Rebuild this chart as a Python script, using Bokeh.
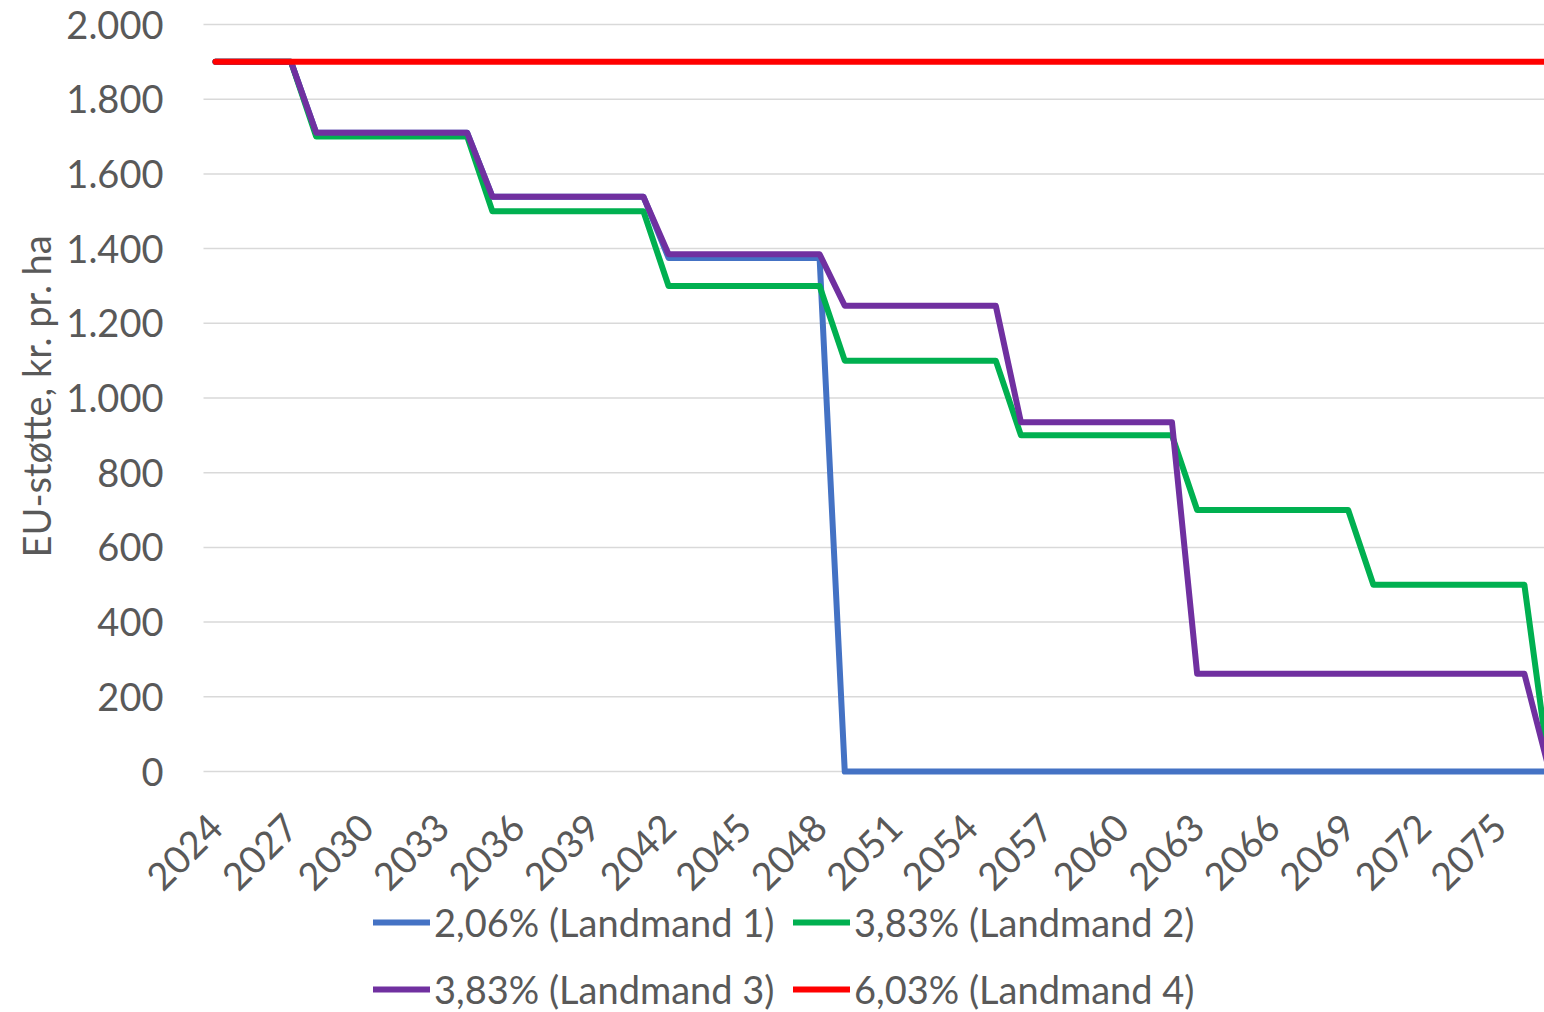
import math
from bokeh.plotting import figure
from bokeh.models import (FixedTicker, CustomJSTickFormatter, Legend, LegendItem,
                          Range1d, Title)
from bokeh.embed import file_html
from bokeh.resources import INLINE

years = list(range(2024, 2078))

landmand1 = [1900, 1900, 1900, 1900,
             1710, 1710, 1710, 1710, 1710, 1710, 1710,
             1539, 1539, 1539, 1539, 1539, 1539, 1539,
             1375, 1375, 1375, 1375, 1375, 1375, 1375,
             0, 0, 0, 0, 0, 0, 0,
             0, 0, 0, 0, 0, 0, 0,
             0, 0, 0, 0, 0, 0, 0,
             0, 0, 0, 0, 0, 0, 0,
             0]
landmand2 = [1900, 1900, 1900, 1900,
             1700, 1700, 1700, 1700, 1700, 1700, 1700,
             1500, 1500, 1500, 1500, 1500, 1500, 1500,
             1300, 1300, 1300, 1300, 1300, 1300, 1300,
             1100, 1100, 1100, 1100, 1100, 1100, 1100,
             900, 900, 900, 900, 900, 900, 900,
             700, 700, 700, 700, 700, 700, 700,
             500, 500, 500, 500, 500, 500, 500,
             0]
landmand3 = [1900, 1900, 1900, 1900,
             1710, 1710, 1710, 1710, 1710, 1710, 1710,
             1539, 1539, 1539, 1539, 1539, 1539, 1539,
             1385, 1385, 1385, 1385, 1385, 1385, 1385,
             1247, 1247, 1247, 1247, 1247, 1247, 1247,
             935, 935, 935, 935, 935, 935, 935,
             262, 262, 262, 262, 262, 262, 262,
             262, 262, 262, 262, 262, 262, 262,
             0]
landmand4 = [1900, 1900, 1900, 1900,
             1900, 1900, 1900, 1900, 1900, 1900, 1900,
             1900, 1900, 1900, 1900, 1900, 1900, 1900,
             1900, 1900, 1900, 1900, 1900, 1900, 1900,
             1900, 1900, 1900, 1900, 1900, 1900, 1900,
             1900, 1900, 1900, 1900, 1900, 1900, 1900,
             1900, 1900, 1900, 1900, 1900, 1900, 1900,
             1900, 1900, 1900, 1900, 1900, 1900, 1900,
             1900]

series_labels = ["2,06% (Landmand 1)", "3,83% (Landmand 2)",
                 "3,83% (Landmand 3)", "6,03% (Landmand 4)"]
series_colors = ["#4472C4", "#00B050", "#7030A0", "#FF0000"]
x_tick_years = list(range(2024, 2076, 3))
y_ticks = [0, 200, 400, 600, 800, 1000, 1200, 1400, 1600, 1800, 2000]
y_axis_title = "EU-støtte, kr. pr. ha"

FONT = "Lato"
TXT = "#595959"

# plot area (category bands 2023.5 .. 2077.5); the frame itself is larger so
# that rotated / top tick labels are not clipped
AREA_LEFT = 2023.523
AREA_RIGHT = 2077.5
x_start = 2017.842
x_end = 2076.80
# value 0 sits at page y=771 and 2000 at y=24 (2000/747 units per px)
UNITS_PER_PX = 2000 / 747
y_bottom = -241 * UNITS_PER_PX
y_top = 2000 + 24 * UNITS_PER_PX

p = figure(width=1544, height=1012, output_backend="svg", toolbar_location=None,
           x_range=Range1d(x_start, x_end), y_range=Range1d(y_bottom, y_top),
           min_border_left=60, min_border_right=0, min_border_top=0,
           min_border_bottom=0)
p.outline_line_color = None
p.background_fill_color = "white"
p.border_fill_color = "white"
p.xgrid.grid_line_color = None
p.ygrid.grid_line_color = None

# horizontal gridlines limited to the plot area
p.segment(x0=[AREA_LEFT] * len(y_ticks), x1=[AREA_RIGHT] * len(y_ticks),
          y0=y_ticks, y1=y_ticks, line_color="#D9D9D9", line_width=1.5,
          level="underlay")

renderers = []
for data, col in zip([landmand1, landmand2, landmand3, landmand4], series_colors):
    r = p.line(years, data, line_color=col, line_width=6,
               line_cap="round", line_join="round")
    renderers.append(r)

# x axis pinned at value 0
p.xaxis.fixed_location = 0
p.xaxis.bounds = (AREA_LEFT, AREA_RIGHT)
p.xaxis.level = "underlay"
p.xaxis.ticker = FixedTicker(ticks=x_tick_years)
p.xaxis.major_label_orientation = math.pi / 4
p.xaxis.major_label_text_font = FONT
p.xaxis.major_label_text_font_size = "38px"
p.xaxis.major_label_text_color = TXT
p.xaxis.major_tick_line_color = None
p.xaxis.major_tick_out = 0
p.xaxis.major_tick_in = 0
p.xaxis.minor_tick_line_color = None
p.xaxis.axis_line_color = None
p.xaxis.major_label_standoff = 49

# y axis pinned at the plot area's left edge
p.yaxis.fixed_location = AREA_LEFT
p.yaxis.ticker = FixedTicker(ticks=y_ticks)
p.yaxis.formatter = CustomJSTickFormatter(code="""
    const t = Math.round(tick);
    if (t >= 1000) {
        return Math.floor(t / 1000) + "." + String(t % 1000).padStart(3, "0");
    }
    return String(t);
""")
p.yaxis.major_label_text_font = FONT
p.yaxis.major_label_text_font_size = "38px"
p.yaxis.major_label_text_color = TXT
p.yaxis.major_tick_line_color = None
p.yaxis.major_tick_out = 0
p.yaxis.major_tick_in = 0
p.yaxis.minor_tick_line_color = None
p.yaxis.axis_line_color = None
p.yaxis.major_label_standoff = 40

ytitle = Title(text=y_axis_title, align="left", offset=455,
               text_font=FONT, text_font_size="38px", text_font_style="normal",
               text_color=TXT, standoff=3)
p.add_layout(ytitle, "left")


def make_legend(idx, x, y):
    its = [LegendItem(label=series_labels[i], renderers=[renderers[i]]) for i in idx]
    return Legend(items=its, location=(x, y), orientation="vertical",
                  glyph_width=57, glyph_height=30, label_standoff=4,
                  spacing=21, padding=0, margin=0,
                  label_text_font=FONT, label_text_font_size="38px",
                  label_text_color=TXT, border_line_color=None,
                  background_fill_alpha=0)


p.add_layout(make_legend([0, 2], 313, 0), "center")
p.add_layout(make_legend([1, 3], 733, 0), "center")

open("out.html", "w").write(file_html(p, INLINE))
